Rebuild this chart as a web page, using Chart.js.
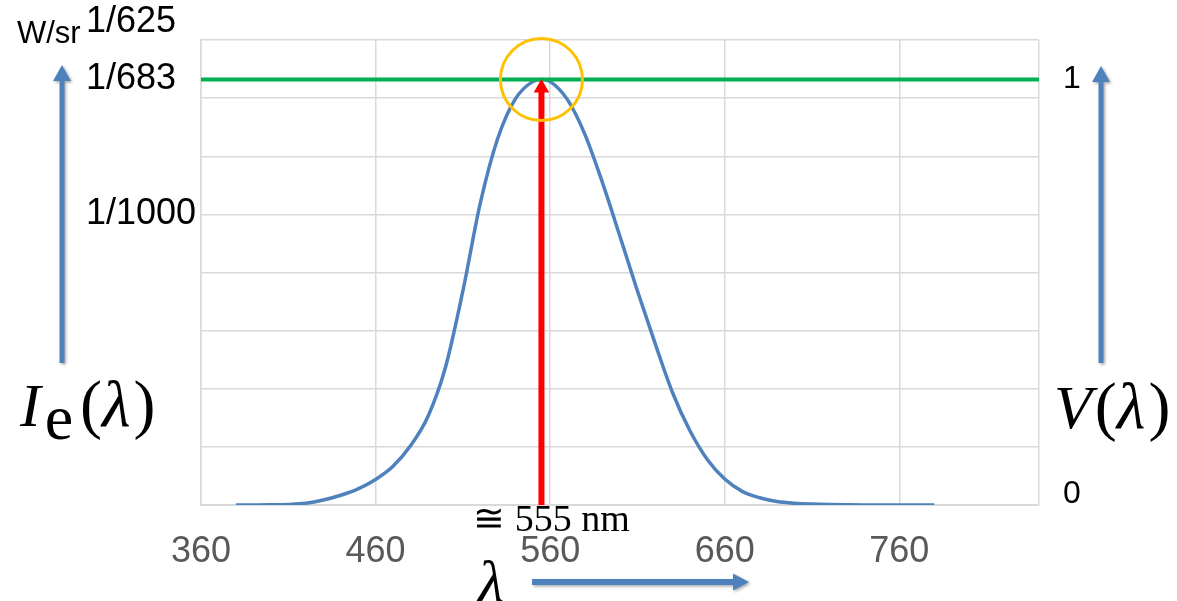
<!DOCTYPE html>
<html>
<head>
<meta charset="utf-8">
<script src="https://cdn.jsdelivr.net/npm/chart.js@4.4.1/dist/chart.umd.min.js"></script>
<style>
  html, body { margin: 0; padding: 0; background: #fff; }
  #wrap { width: 1177px; height: 601px; }
</style>
</head>
<body>
<div id="wrap"><canvas id="myChart" width="1177" height="601"></canvas></div>
<script>
// wavelength (nm) and luminous efficiency V(λ)
const wavelengths = [380, 390, 400, 410, 420, 430, 440, 450, 460, 470, 480, 490, 500, 510, 520, 530, 540, 550, 555,
  560, 570, 580, 590, 600, 610, 620, 630, 640, 650, 660, 670, 680, 690, 700, 710, 720, 730, 740, 750, 760, 770, 780];
const vLambda = [0.00004, 0.00012, 0.0004, 0.0012, 0.004, 0.0116, 0.023, 0.038, 0.06, 0.091, 0.139, 0.208, 0.323, 0.503, 0.71, 0.862, 0.954, 0.995, 1.0,
  0.995, 0.952, 0.87, 0.757, 0.631, 0.503, 0.381, 0.265, 0.175, 0.107, 0.061, 0.032, 0.017, 0.0082, 0.0041, 0.0021, 0.001, 0.0005, 0.00025, 0.00012, 0.00006, 0.00003, 0.000015];

const xTicks = [360, 460, 560, 660, 760, 840];
const xTickLabels = ['360', '460', '560', '660', '760', ''];
const yTicks = [0, 0.0002, 0.0004, 0.0006, 0.0008, 0.001, 0.0012, 0.0014, 1 / 683, 0.0016];
const yTickLabels = ['', '', '', '', '', '1/1000', '', '', '1/683', ['1/625', '']];
const vTicks = [0, 1];
const vTickLabels = [['0', ''], '1'];

const peakWavelength = 555;
const peakV = 1;
const arrowTopV = 0.98;
const maxV = 1;

const blue = '#4F81BD';
const gridGrey = '#D9D9D9';

function blueArrow(ctx, x1, y1, x2, y2, shaft, headW, headL) {
  const ang = Math.atan2(y2 - y1, x2 - x1);
  const len = Math.hypot(x2 - x1, y2 - y1);
  ctx.save();
  ctx.translate(x1, y1);
  ctx.rotate(ang);
  ctx.shadowColor = 'rgba(0,0,0,0.35)';
  ctx.shadowBlur = 3;
  ctx.shadowOffsetX = 1.5;
  ctx.shadowOffsetY = 1.5;
  ctx.fillStyle = blue;
  ctx.beginPath();
  ctx.moveTo(0, -shaft / 2);
  ctx.lineTo(len - headL, -shaft / 2);
  ctx.lineTo(len - headL, -headW / 2);
  ctx.lineTo(len, 0);
  ctx.lineTo(len - headL, headW / 2);
  ctx.lineTo(len - headL, shaft / 2);
  ctx.lineTo(0, shaft / 2);
  ctx.closePath();
  ctx.fill();
  ctx.restore();
}

function mathText(ctx, parts, x, baseline) {
  let cx = x;
  parts.forEach(p => {
    ctx.font = p.font;
    ctx.fillText(p.t, cx + (p.dx || 0), baseline + (p.dy || 0));
    cx += ctx.measureText(p.t).width + (p.dx || 0) + (p.gap || 0);
  });
}

const annotations = {
  id: 'annotations',
  afterDraw(chart) {
    const { ctx, scales: { x } } = chart;
    ctx.save();
    ctx.fillStyle = '#000';
    ctx.textBaseline = 'alphabetic';
    ctx.textAlign = 'left';

    ctx.font = "31px 'Liberation Sans'";
    ctx.fillText('W/sr', 17, 43);

    blueArrow(ctx, 62, 363, 62, 65, 5, 18, 16);
    blueArrow(ctx, 1101, 363, 1101, 66, 5, 18, 16);
    blueArrow(ctx, 532, 582, 749, 582, 6, 17, 16);

    const ser = "'Liberation Serif'";
    mathText(ctx, [
      { t: 'I', font: `italic 62px ${ser}`, gap: 4 },
      { t: 'e', font: `64px ${ser}`, dy: 13, gap: 7 },
      { t: '(', font: `66px ${ser}` },
      { t: 'λ', font: `italic 66px ${ser}`, gap: 3 },
      { t: ')', font: `66px ${ser}` }
    ], 20, 426);

    mathText(ctx, [
      { t: 'V', font: `italic 62px ${ser}`, gap: 3 },
      { t: '(', font: `66px ${ser}` },
      { t: 'λ', font: `italic 66px ${ser}`, gap: 3 },
      { t: ')', font: `66px ${ser}` }
    ], 1054, 428);

    ctx.font = `italic 60px ${ser}`;
    ctx.fillText('λ', 478, 602);

    ctx.textAlign = 'center';
    ctx.font = `38px ${ser}`;
    ctx.fillText('≅ 555 nm', x.getPixelForValue(peakWavelength) + 10, 531);
    ctx.restore();
  }
};

const noPad = s => { s.paddingTop = 0; s.paddingBottom = 0; s.paddingLeft = 0; s.paddingRight = 0; };

const ctx = document.getElementById('myChart').getContext('2d');
Chart.defaults.font.family = "'Liberation Sans', Arial, sans-serif";

new Chart(ctx, {
  type: 'line',
  data: {
    datasets: [
      {
        data: [{ x: peakWavelength, y: peakV }],
        yAxisID: 'y2', showLine: false,
        pointRadius: 41, pointStyle: 'circle', pointBorderWidth: 3,
        pointBorderColor: '#FFC000', pointBackgroundColor: 'rgba(0,0,0,0)',
        clip: false, order: 0
      },
      {
        data: [{ x: peakWavelength, y: 0 }, { x: peakWavelength, y: arrowTopV }],
        yAxisID: 'y2', borderColor: '#FF0000', borderWidth: 6,
        pointRadius: [0, 9], pointStyle: 'triangle', pointBorderWidth: 0,
        pointBackgroundColor: '#FF0000', order: 1
      },
      {
        data: [{ x: xTicks[0], y: maxV }, { x: xTicks[xTicks.length - 1], y: maxV }],
        yAxisID: 'y2', borderColor: '#00B050', borderWidth: 4, pointRadius: 0, order: 2
      },
      {
        data: wavelengths.map((w, i) => ({ x: w, y: vLambda[i] })),
        yAxisID: 'y2', borderColor: blue, borderWidth: 3.5, pointRadius: 0,
        cubicInterpolationMode: 'monotone', order: 3
      }
    ]
  },
  options: {
    responsive: false,
    animation: false,
    events: [],
    layout: { autoPadding: false, padding: { left: 86, top: 40, right: 0, bottom: 0 } },
    plugins: { legend: { display: false }, tooltip: { enabled: false } },
    scales: {
      x: {
        type: 'linear', min: 360, max: 840,
        afterFit: s => { s.height = 96; noPad(s); },
        afterBuildTicks: s => { s.ticks = xTicks.map(v => ({ value: v })); },
        ticks: {
          callback: (v, i) => xTickLabels[i],
          color: '#595959', font: { size: 36 }, padding: 25, maxRotation: 0, autoSkip: false
        },
        grid: { color: gridGrey, lineWidth: 1.5, drawTicks: false },
        border: { color: gridGrey, width: 2 }
      },
      y: {
        type: 'linear', position: 'left', min: 0, max: 0.0016,
        afterFit: s => { s.width = 115; noPad(s); },
        afterBuildTicks: s => { s.ticks = yTicks.map(v => ({ value: v })); },
        ticks: {
          callback: (v, i) => yTickLabels[i],
          crossAlign: 'far', color: '#000', font: { size: 36, lineHeight: 1 }, autoSkip: false
        },
        grid: {
          color: c => (c.tick && Math.abs(c.tick.value - 1 / 683) < 1e-9 ? 'rgba(0,0,0,0)' : gridGrey),
          lineWidth: 1.5, drawTicks: false
        },
        border: { color: gridGrey, width: 1.5 }
      },
      y2: {
        type: 'linear', position: 'right', min: 0, max: 0.0016 * 683,
        afterFit: s => { s.width = 138; noPad(s); },
        afterBuildTicks: s => { s.ticks = vTicks.map(v => ({ value: v })); },
        ticks: {
          callback: (v, i) => vTickLabels[i],
          color: '#000', font: { size: 32, lineHeight: 0.7 }, padding: 24, autoSkip: false
        },
        grid: { display: false, drawTicks: false },
        border: { display: false }
      }
    }
  },
  plugins: [annotations]
});
</script>
</body>
</html>
